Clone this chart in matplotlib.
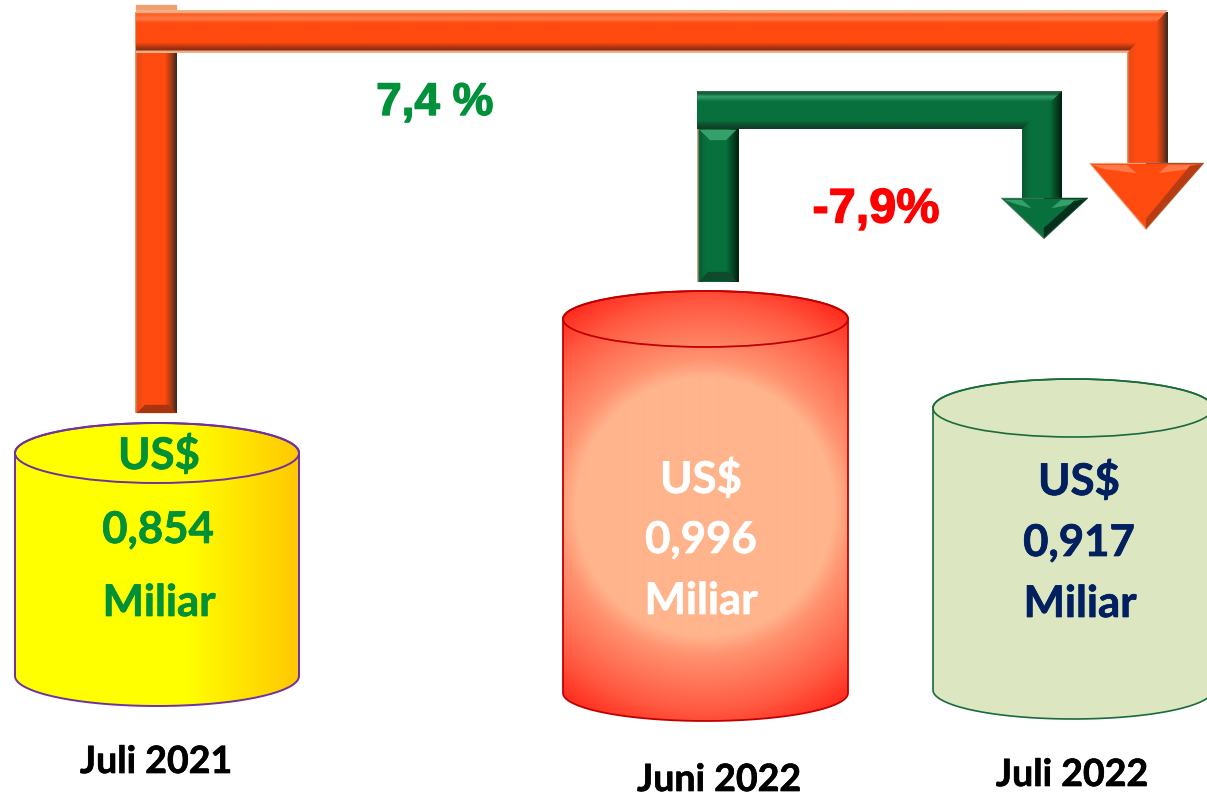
import numpy as np
import matplotlib
matplotlib.use("Agg")
import matplotlib.pyplot as plt
import matplotlib.patheffects as pe
from matplotlib.patches import Polygon, Ellipse, PathPatch
from matplotlib.path import Path
from matplotlib.colors import LinearSegmentedColormap as LSC

periods = ["Juli 2021", "Juni 2022", "Juli 2022"]
values = ["0,854", "0,996", "0,917"]
unit_top = "US$"
unit_bottom = "Miliar"
change_year = "7,4 %"
change_month = "-7,9%"

W, H = 1207, 796
fig = plt.figure(figsize=(W / 100, H / 100), dpi=100)
ax = fig.add_axes([0, 0, 1, 1])
ax.axis("off")


def gradient(clip, extent, arr, cmap, z):
    x0, x1, y0, y1 = extent
    im = ax.imshow(arr, extent=(x0, x1, y1, y0), cmap=cmap, vmin=0, vmax=1,
                   aspect="auto", interpolation="bilinear", zorder=z)
    if clip is not None:
        im.set_clip_path(clip)


def cylinder(x0, x1, ytop, ybot, ry, edge, lw, fill):
    cx, rx = (x0 + x1) / 2, (x1 - x0) / 2
    t = np.linspace(np.pi, 0, 80)
    verts = [(x0, ytop)] + [(cx + rx * np.cos(a), ytop - ry * np.sin(a)) for a in t]
    verts += [(cx + rx * np.cos(a), ybot + ry * np.sin(a)) for a in t[::-1]]
    body = PathPatch(Path(verts + [verts[0]]), transform=ax.transData, fc="none", ec="none")
    ax.add_patch(body)
    fill(body, (x0, x1, ytop - ry, ybot + ry))
    ax.add_patch(PathPatch(Path(verts + [verts[0]]), fc="none", ec=edge, lw=lw, zorder=3))
    ax.add_patch(Ellipse((cx, ytop), 2 * rx, 2 * ry, fc="none", ec=edge, lw=lw, zorder=3))


def yellow_fill(clip, ext):
    xs = np.linspace(0, 1, 256)[None, :]
    cm = LSC.from_list("y", [(0, "#ffff00"), (0.6, "#ffff00"), (1, "#ffc800")])
    gradient(clip, ext, xs, cm, 2)


def red_fill(clip, ext):
    x = np.linspace(ext[0], ext[1], 300)
    y = np.linspace(ext[2], ext[3], 430)
    X, Y = np.meshgrid(x, y)
    d = np.hypot(X - 705, Y - 507)
    v = np.clip(d / 240, 0, 1)
    cm = LSC.from_list("r", [(0, "#ffb48c"), (0.54, "#ffb48c"), (0.62, "#ff9270"),
                             (0.85, "#ff5a42"), (1, "#ff2a1c")])
    gradient(clip, ext, v, cm, 2)


def green_fill(clip, ext):
    gradient(clip, ext, np.zeros((2, 2)), LSC.from_list("g", ["#dce6c0", "#dce6c0"]), 2)


cylinder(15, 299, 453, 676, 30, "#7030a0", 1.4, yellow_fill)
cylinder(563, 848, 319, 693, 28, "#c00000", 1.3, red_fill)
cylinder(933, 1213, 408, 690, 29, "#1a6b3c", 1.2, green_fill)


def poly(pts, c, z=5):
    ax.add_patch(Polygon(pts, closed=True, fc=c, ec=c, lw=0.2, zorder=z))


def vbar(x0, y0, x1, y1, stops, z):
    cm = LSC.from_list("v", stops)
    gradient(None, (x0, x1, y0, y1), np.linspace(0, 1, 64)[None, :], cm, z)


def hbar(x0, y0, x1, y1, stops, z, outline):
    cm = LSC.from_list("h", stops)
    clip = Polygon(outline, closed=True, transform=ax.transData, fc="none", ec="none")
    ax.add_patch(clip)
    gradient(clip, (x0, x1, y0, y1), np.linspace(0, 1, 64)[:, None], cm, z)


def head(xl, xr, ytop, tipx, tipy, sl, sr, base, light, dark, rim_l, rim_r, z=7):
    poly([(xl - 2, ytop - 1), (xr + 2, ytop - 1), (tipx, tipy + 2)], rim_l, z)
    poly([(tipx, ytop - 1), (xr + 2, ytop - 1), (tipx, tipy + 1)], rim_r, z)
    poly([(xl, ytop), (xr, ytop), (tipx, tipy)], base, z)
    poly([(xl + 2, ytop + 1), (sl, ytop + 1), (sl + 9, ytop + 9), (xl + 13, ytop + 5)], light, z)
    poly([(xr - 2, ytop + 1), (sr, ytop + 1), (sr - 9, ytop + 9), (xr - 13, ytop + 5)], light, z)
    poly([(xr, ytop), (tipx, tipy), (tipx, tipy - 9), (xr - 12, ytop + 2)], dark, z)


orange_v = [(0, "#e0a070"), (0.05, "#e84a14"), (0.2, "#ff4a10"), (0.72, "#ff4a10"),
            (0.88, "#a03a15"), (1, "#3a2a20")]
orange_h = [(0, "#f0b088"), (0.05, "#f0b088"), (0.08, "#ff5a20"), (0.2, "#ff7a48"), (0.3, "#ff4a10"),
            (0.76, "#ff4a10"), (0.9, "#9c3010"), (0.94, "#8a2c10"), (0.96, "#f0b088"), (1, "#f0b088")]
green_v = [(0, "#e0b090"), (0.05, "#0b5a32"), (0.2, "#08703c"), (0.7, "#08703c"),
           (0.88, "#04401f"), (1, "#02200f")]
green_h = [(0, "#3a6a50"), (0.05, "#0e5a34"), (0.14, "#35a06a"), (0.27, "#08703c"),
           (0.78, "#08703c"), (0.92, "#0e4a2c"), (1, "#123c28")]

# orange arrow
poly([(136, 5), (177, 5), (177, 12), (136, 12)], "#f0a070", 4)
vbar(135, 12, 177, 413, orange_v, 5)
poly([(137, 413), (176, 413), (168, 405), (145, 405)], "#a83410", 5.5)
vbar(1127, 12, 1168, 166, orange_v, 5)
hbar(136, 10, 1168, 53, orange_h, 6, [(136, 10), (1168, 10), (1127, 53), (136, 53)])
head(1091, 1202, 164, 1146, 228, 1127, 1168, "#ff4a10", "#ff7a48", "#b83c12", "#e8b090", "#8a5a40")

# green arrow
vbar(697, 129, 739, 282, green_v, 5)
poly([(700, 130), (736, 130), (726, 140), (710, 140)], "#35a06a", 5.5)
poly([(700, 281), (736, 281), (728, 272), (708, 272)], "#0e4a2c", 5.5)
vbar(1022, 91, 1062, 200, green_v[1:] if False else
     [(0, "#0b5a32"), (0.2, "#08703c"), (0.7, "#08703c"), (0.88, "#04401f"), (1, "#02200f")], 5)
hbar(697, 91, 1062, 129, green_h, 6, [(697, 91), (1062, 91), (1022, 129), (697, 129)])
head(1003, 1086, 199, 1044, 237, 1022, 1061, "#08703c", "#35a06a", "#03301a", "#46705a", "#1a3a2a")

ax.set_xlim(0, W)
ax.set_ylim(H, 0)


def label(x, y, s, c, size=31.5, fam="Lato", stroke=0.5):
    ax.text(x, y, s, color=c, fontsize=size, fontweight="bold", family=fam,
            ha="center", va="center", zorder=10,
            path_effects=[pe.withStroke(linewidth=stroke, foreground=c)])


colors = ["#009036", "#ffffff", "#002060"]
xs = [(159, 158, 159), (701, 701, 701), (1079, 1079, 1080)]
ys = [(455, 530, 603), (479, 540, 601), (481, 543, 604)]
for v, c, xx, yy in zip(values, colors, xs, ys):
    label(xx[0], yy[0], unit_top, c)
    label(xx[1], yy[1], v, c)
    label(xx[2], yy[2], unit_bottom, c)

for p, (x, y) in zip(periods, [(156, 762), (719, 780), (1072, 775)]):
    label(x, y, p, "black", 27)

label(435, 103, change_year, "#00913a", 33, "Liberation Sans", 1)
label(876, 210, change_month, "#ff0000", 35, "Liberation Sans", 1)

fig.savefig("out.png", dpi=100, facecolor="white")
